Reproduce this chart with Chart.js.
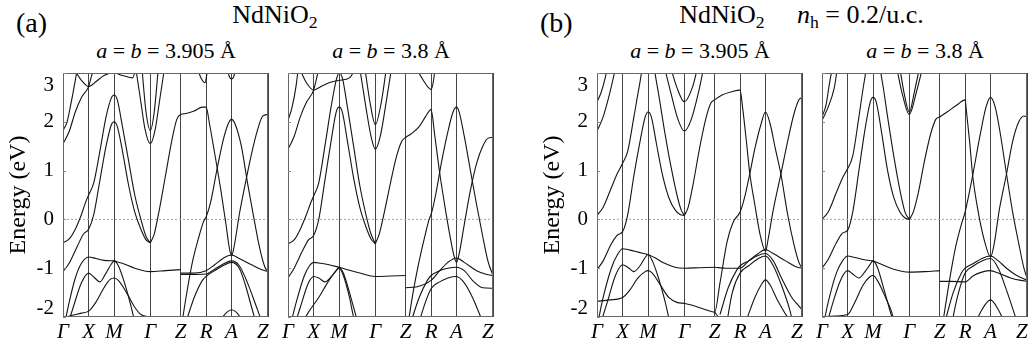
<!DOCTYPE html>
<html><head><meta charset="utf-8">
<script src="https://cdn.jsdelivr.net/npm/chart.js@4.4.0/dist/chart.umd.min.js"></script>
<style>
html,body{margin:0;padding:0;background:#fff;}
#wrap{position:relative;width:1036px;height:351px;overflow:hidden;font-family:'Liberation Serif','Times New Roman',serif;color:#000;background:#fff;}
canvas{position:absolute;}
.t{position:absolute;white-space:nowrap;line-height:1;}
.c{transform:translateX(-50%);}
sub{font-size:0.68em;vertical-align:-0.3em;line-height:0;}
</style></head><body><div id="wrap">
<div class="t" style="left:16px;top:9px;font-size:28px">(a)</div>
<div class="t c" style="left:275px;top:2px;font-size:26px">NdNiO<sub>2</sub></div>
<div class="t c" style="left:166px;top:40px;font-size:22px"><i>a</i> = <i>b</i> = 3.905 Å</div>
<div class="t c" style="left:391px;top:40px;font-size:22px"><i>a</i> = <i>b</i> = 3.8 Å</div>
<div class="t" style="left:540px;top:9px;font-size:28px">(b)</div>
<div class="t c" style="left:722px;top:2px;font-size:26px">NdNiO<sub>2</sub></div>
<div class="t" style="left:797px;top:2px;font-size:26px"><i>n</i><sub>h</sub> = 0.2/u.c.</div>
<div class="t c" style="left:700px;top:40px;font-size:22px"><i>a</i> = <i>b</i> = 3.905 Å</div>
<div class="t c" style="left:925px;top:40px;font-size:22px"><i>a</i> = <i>b</i> = 3.8 Å</div>
<canvas id="c1"></canvas><canvas id="c2"></canvas><canvas id="c3"></canvas><canvas id="c4"></canvas>
</div>
<script>
// ---- data ----
const kLabels = ['Γ','X','M','Γ','Z','R','A','Z\u2002'];
const kTicks = [0, 0.125, 0.249, 0.426, 0.574, 0.698, 0.822, 1.0];
const yTicks = [-2, -1, 0, 1, 2, 3];
const zeroLine = [[0, 0], [1, 0]];

// NdNiO2, a = b = 3.905 Å
const bandsA1 = [
 [[0,-0.48],[0.03,-0.4],[0.06,-0.2],[0.09,0.1],[0.11,0.35],[0.125,0.5],[0.15,0.75],[0.18,1.4],[0.21,2.1],[0.235,2.48],[0.249,2.55],[0.265,2.45],[0.29,1.9],[0.32,1.2],[0.35,0.5],[0.38,0.0],[0.405,-0.35],[0.426,-0.48]],
 [[0,-1.07],[0.03,-0.9],[0.07,-0.55],[0.1,-0.3],[0.125,-0.2],[0.15,0.1],[0.18,0.8],[0.21,1.5],[0.235,1.93],[0.249,2.0],[0.265,1.9],[0.29,1.4],[0.32,0.7],[0.35,0.15],[0.38,-0.2],[0.405,-0.42],[0.426,-0.48]],
 [[0.426,-0.48],[0.445,-0.3],[0.47,0.2],[0.5,0.9],[0.53,1.6],[0.555,2.05],[0.574,2.15],[0.6,2.17],[0.64,2.22],[0.68,2.3],[0.698,2.3],[0.715,1.95],[0.74,1.35],[0.77,0.6],[0.795,-0.1],[0.81,-0.55],[0.822,-0.75],[0.835,-0.55],[0.86,0.1],[0.89,0.75],[0.92,1.35],[0.95,1.85],[0.975,2.12],[1.0,2.15]],
 [[0.574,-2.3],[0.6,-1.6],[0.63,-0.9],[0.66,-0.4],[0.685,-0.05],[0.698,0.05],[0.72,0.35],[0.75,1.0],[0.78,1.6],[0.805,1.95],[0.822,2.05],[0.84,1.95],[0.87,1.5],[0.9,0.75],[0.93,0.05],[0.96,-0.6],[0.985,-0.98],[1.0,-1.07]],
 [[0.249,-0.85],[0.29,-0.9],[0.35,-1.0],[0.426,-1.07],[0.5,-1.05],[0.574,-1.03]],
 [[0.574,-1.1],[0.64,-1.1],[0.698,-1.05],[0.74,-0.93],[0.78,-0.8],[0.822,-0.73],[0.86,-0.8],[0.92,-0.93],[0.97,-1.03],[1.0,-1.07]],
 [[0.574,-1.13],[0.62,-1.13],[0.698,-1.12],[0.74,-1.02],[0.78,-0.92],[0.822,-0.85],[0.86,-0.95],[0.9,-1.3],[0.94,-1.75],[0.97,-2.1]],
 [[0.6,-2.1],[0.64,-1.6],[0.68,-1.25],[0.698,-1.17],[0.74,-1.05],[0.78,-0.95],[0.822,-0.88],[0.86,-1.0],[0.89,-1.35],[0.92,-1.8],[0.94,-2.1]],
 [[0.76,-2.1],[0.8,-1.9],[0.822,-1.85],[0.845,-1.9],[0.88,-2.1]],
 [[0,-2.02],[0.04,-1.97],[0.09,-1.92],[0.125,-1.88],[0.16,-1.7],[0.2,-1.4],[0.23,-1.23],[0.249,-1.2],[0.27,-1.25],[0.31,-1.5],[0.35,-1.8],[0.38,-1.95],[0.426,-2.0],[0.48,-2.05],[0.53,-2.12],[0.574,-2.25]],
 [[0.005,-2.2],[0.03,-1.7],[0.06,-1.2],[0.09,-0.9],[0.125,-0.77],[0.16,-0.8],[0.2,-0.84],[0.249,-0.85]],
 [[0.02,-2.2],[0.05,-1.8],[0.09,-1.3],[0.125,-1.1],[0.15,-1.18],[0.18,-1.28],[0.21,-1.1],[0.235,-0.92],[0.249,-0.85],[0.27,-0.95],[0.3,-1.3],[0.33,-1.75],[0.35,-2.1]],
 [[0,1.82],[0.02,2.0],[0.04,2.4],[0.06,2.85],[0.07,3.1]],
 [[0,1.55],[0.03,1.8],[0.06,2.2],[0.09,2.5],[0.125,2.72],[0.14,2.95],[0.155,3.1]],
 [[0.05,3.1],[0.09,2.85],[0.125,2.72],[0.16,2.82],[0.2,2.95],[0.249,3.0],[0.29,2.95],[0.34,2.9],[0.355,3.1]],
 [[0.355,3.1],[0.38,2.4],[0.4,1.85],[0.426,1.55],[0.45,1.85],[0.47,2.4],[0.495,3.1]],
 [[0.385,3.1],[0.405,2.2],[0.426,1.82],[0.445,2.2],[0.465,3.1]],
 [[0.655,3.1],[0.675,2.88],[0.693,2.8],[0.705,3.05],[0.71,3.1]],
 [[0.8,3.1],[0.812,2.92],[0.822,2.88],[0.832,2.92],[0.844,3.1]]
];

// NdNiO2, a = b = 3.8 Å
const bandsA2 = [
 [[0,-0.5],[0.03,-0.42],[0.06,-0.2],[0.09,0.1],[0.11,0.33],[0.125,0.48],[0.15,0.75],[0.18,1.5],[0.21,2.3],[0.235,2.85],[0.249,3.0],[0.265,2.9],[0.29,2.3],[0.32,1.5],[0.35,0.7],[0.38,0.1],[0.405,-0.3],[0.426,-0.5]],
 [[0,-1.2],[0.03,-1.0],[0.07,-0.65],[0.1,-0.42],[0.125,-0.33],[0.15,0.0],[0.18,0.8],[0.21,1.6],[0.235,2.2],[0.249,2.3],[0.265,2.2],[0.29,1.6],[0.32,0.85],[0.35,0.25],[0.38,-0.15],[0.405,-0.4],[0.426,-0.5]],
 [[0.426,-0.5],[0.445,-0.3],[0.47,0.15],[0.5,0.75],[0.53,1.3],[0.555,1.6],[0.574,1.68],[0.6,1.75],[0.64,1.9],[0.67,2.1],[0.698,2.25],[0.715,1.75],[0.74,0.95],[0.77,0.15],[0.795,-0.45],[0.81,-0.75],[0.822,-0.88],[0.835,-0.7],[0.86,-0.1],[0.89,0.6],[0.92,1.15],[0.95,1.5],[0.975,1.66],[1.0,1.68]],
 [[0.625,3.1],[0.66,2.85],[0.685,2.7],[0.698,2.66],[0.708,2.8],[0.718,3.1]],
 [[0.58,-2.3],[0.61,-1.5],[0.64,-0.85],[0.67,-0.3],[0.69,0.02],[0.698,0.1],[0.72,0.5],[0.75,1.2],[0.78,1.8],[0.805,2.2],[0.822,2.3],[0.835,2.2],[0.86,1.7],[0.89,1.0],[0.92,0.3],[0.95,-0.35],[0.975,-0.85],[1.0,-1.15]],
 [[0.249,-0.98],[0.29,-1.03],[0.35,-1.1],[0.426,-1.17],[0.5,-1.16],[0.574,-1.15]],
 [[0.574,-1.4],[0.63,-1.38],[0.698,-1.25],[0.74,-1.05],[0.78,-0.88],[0.822,-0.79],[0.86,-0.88],[0.92,-1.05],[0.97,-1.13],[1.0,-1.15]],
 [[0.6,-2.1],[0.64,-1.6],[0.68,-1.25],[0.698,-1.15],[0.74,-1.05],[0.78,-1.0],[0.822,-0.98],[0.86,-1.05],[0.9,-1.25],[0.95,-1.4],[1.0,-1.41]],
 [[0.64,-2.1],[0.67,-1.7],[0.698,-1.42],[0.74,-1.28],[0.78,-1.2],[0.822,-1.17],[0.86,-1.3],[0.9,-1.6],[0.94,-2.0],[0.96,-2.2]],
 [[0.01,-2.2],[0.04,-1.7],[0.08,-1.15],[0.105,-0.95],[0.125,-0.88],[0.16,-0.9],[0.2,-0.93],[0.249,-0.98]],
 [[0.03,-2.2],[0.06,-1.8],[0.1,-1.3],[0.125,-1.17],[0.15,-1.2],[0.18,-1.28],[0.21,-1.18],[0.235,-1.05],[0.249,-0.98],[0.27,-1.1],[0.3,-1.5],[0.33,-1.95],[0.35,-2.2]],
 [[0.06,-2.2],[0.1,-1.9],[0.15,-1.6],[0.2,-1.25],[0.235,-1.05],[0.249,-1.0],[0.27,-1.15],[0.3,-1.6],[0.32,-2.0],[0.34,-2.2]],
 [[0,2.03],[0.02,2.3],[0.04,2.75],[0.05,3.1]],
 [[0,1.44],[0.03,1.7],[0.06,2.1],[0.09,2.4],[0.125,2.65],[0.14,2.9],[0.15,3.1]],
 [[0.055,3.1],[0.09,2.8],[0.125,2.65],[0.16,2.72],[0.2,2.8],[0.249,2.85],[0.3,2.9],[0.33,3.1]],
 [[0.35,3.1],[0.38,2.3],[0.405,1.7],[0.426,1.44],[0.45,1.7],[0.475,2.3],[0.505,3.1]],
 [[0.375,3.1],[0.4,2.4],[0.426,1.94],[0.455,2.4],[0.48,3.1]]
];

// NdNiO2, n_h = 0.2/u.c., a = b = 3.905 Å
const bandsB1 = [
 [[0,0.08],[0.03,0.25],[0.07,0.65],[0.1,0.95],[0.125,1.15],[0.15,1.4],[0.18,2.1],[0.205,2.7],[0.249,3.6],[0.295,2.7],[0.33,1.8],[0.36,1.1],[0.39,0.5],[0.41,0.2],[0.426,0.08]],
 [[0,-1.03],[0.03,-0.85],[0.07,-0.5],[0.1,-0.32],[0.125,-0.25],[0.15,0.1],[0.18,0.9],[0.21,1.6],[0.235,2.1],[0.249,2.2],[0.265,2.1],[0.29,1.55],[0.32,0.9],[0.35,0.45],[0.38,0.2],[0.405,0.1],[0.426,0.08]],
 [[0.426,0.08],[0.445,0.25],[0.47,0.75],[0.5,1.45],[0.53,2.05],[0.555,2.38],[0.574,2.45],[0.61,2.55],[0.66,2.62],[0.698,2.65],[0.71,2.3],[0.73,1.55],[0.745,0.95],[0.77,0.3],[0.795,-0.3],[0.822,-0.65],[0.835,-0.4],[0.86,0.2],[0.897,0.93],[0.93,1.6],[0.96,2.15],[0.985,2.45],[1.0,2.5]],
 [[0.426,-1.72],[0.48,-1.78],[0.53,-1.85],[0.574,-1.9],[0.6,-1.3],[0.635,-0.45],[0.665,-0.05],[0.698,0.15],[0.72,0.45],[0.745,0.93],[0.77,1.45],[0.8,1.95],[0.822,2.2],[0.845,1.95],[0.87,1.45],[0.897,0.93],[0.93,0.1],[0.96,-0.5],[0.985,-0.88],[1.0,-1.0]],
 [[0.574,-1.9],[0.6,-2.05],[0.62,-2.2]],
 [[0.249,-0.72],[0.28,-0.78],[0.33,-0.9],[0.38,-0.98],[0.426,-1.0],[0.5,-0.99],[0.574,-0.98]],
 [[0.574,-0.98],[0.63,-1.0],[0.698,-1.0],[0.74,-0.85],[0.78,-0.72],[0.822,-0.62],[0.86,-0.7],[0.92,-0.85],[0.97,-0.97],[1.0,-1.0]],
 [[0.6,-1.95],[0.64,-1.4],[0.68,-1.05],[0.698,-0.95],[0.74,-0.85],[0.78,-0.75],[0.822,-0.7],[0.86,-0.85],[0.9,-1.2],[0.95,-1.6],[0.98,-1.75],[1.0,-1.85]],
 [[0.63,-2.2],[0.66,-1.5],[0.698,-1.1],[0.74,-0.95],[0.78,-0.82],[0.822,-0.75],[0.86,-0.95],[0.9,-1.35],[0.94,-1.85],[0.96,-2.2]],
 [[0.73,-2.05],[0.77,-1.6],[0.8,-1.35],[0.822,-1.24],[0.845,-1.35],[0.88,-1.65],[0.93,-2.0],[0.96,-2.1]],
 [[0,-1.68],[0.06,-1.65],[0.125,-1.6],[0.16,-1.45],[0.2,-1.2],[0.235,-1.07],[0.249,-1.05],[0.27,-1.1],[0.31,-1.35],[0.35,-1.6],[0.39,-1.7],[0.426,-1.72]],
 [[0.005,-2.1],[0.03,-1.6],[0.07,-1.0],[0.1,-0.72],[0.125,-0.6],[0.16,-0.63],[0.2,-0.67],[0.249,-0.72]],
 [[0.02,-2.1],[0.05,-1.7],[0.09,-1.15],[0.125,-0.93],[0.15,-0.98],[0.18,-1.07],[0.21,-0.95],[0.235,-0.78],[0.249,-0.72],[0.27,-0.85],[0.3,-1.2],[0.33,-1.65],[0.36,-2.2]],
 [[0,2.41],[0.02,2.6],[0.04,2.9],[0.05,3.1]],
 [[0,1.81],[0.03,2.1],[0.06,2.55],[0.085,3.0],[0.09,3.1]],
 [[0.36,3.1],[0.39,2.7],[0.426,2.41],[0.465,2.7],[0.49,3.1]],
 [[0.33,3.1],[0.36,2.6],[0.395,2.05],[0.426,1.81],[0.46,2.05],[0.495,2.6],[0.52,3.1]]
];

// NdNiO2, n_h = 0.2/u.c., a = b = 3.8 Å
const bandsB2 = [
 [[0,0.0],[0.03,0.15],[0.07,0.55],[0.1,0.85],[0.12,1.0],[0.15,1.3],[0.18,2.1],[0.205,2.8],[0.249,3.7],[0.295,2.8],[0.32,2.1],[0.35,1.3],[0.38,0.6],[0.405,0.15],[0.426,0.0]],
 [[0,-1.0],[0.03,-0.82],[0.07,-0.48],[0.1,-0.28],[0.125,-0.22],[0.15,0.15],[0.18,1.0],[0.21,1.85],[0.235,2.4],[0.249,2.5],[0.265,2.4],[0.29,1.8],[0.32,1.0],[0.35,0.45],[0.38,0.15],[0.405,0.03],[0.426,0.0]],
 [[0.426,0.0],[0.445,0.15],[0.47,0.55],[0.5,1.2],[0.53,1.75],[0.555,2.05],[0.574,2.1],[0.61,2.2],[0.66,2.35],[0.698,2.45],[0.705,2.2],[0.72,1.6],[0.735,0.9],[0.76,0.2],[0.79,-0.4],[0.822,-0.77],[0.84,-0.5],[0.865,0.2],[0.9,0.93],[0.93,1.6],[0.96,2.0],[0.985,2.12],[1.0,2.1]],
 [[0.59,-2.1],[0.62,-1.3],[0.65,-0.6],[0.68,-0.1],[0.698,0.15],[0.735,0.9],[0.77,1.7],[0.8,2.3],[0.822,2.5],[0.845,2.3],[0.87,1.75],[0.9,0.93],[0.93,0.15],[0.96,-0.5],[0.985,-1.0],[1.0,-1.2]],
 [[0.249,-0.85],[0.29,-0.92],[0.35,-1.02],[0.426,-1.08],[0.5,-1.07],[0.574,-1.05]],
 [[0.574,-1.27],[0.63,-1.27],[0.698,-1.28],[0.74,-1.15],[0.78,-1.08],[0.822,-1.05],[0.86,-1.1],[0.92,-1.2],[0.97,-1.25],[1.0,-1.27]],
 [[0.6,-2.1],[0.64,-1.5],[0.68,-1.1],[0.698,-1.0],[0.74,-0.9],[0.78,-0.8],[0.822,-0.75],[0.86,-0.85],[0.9,-1.0],[0.95,-1.15],[1.0,-1.25]],
 [[0.63,-2.2],[0.66,-1.6],[0.698,-1.1],[0.74,-0.95],[0.78,-0.85],[0.822,-0.8],[0.86,-1.0],[0.9,-1.45],[0.94,-1.95],[0.96,-2.2]],
 [[0.74,-2.2],[0.78,-1.85],[0.822,-1.65],[0.86,-1.85],[0.9,-2.2]],
 [[0,-2.0],[0.06,-1.98],[0.125,-1.95],[0.16,-1.7],[0.2,-1.35],[0.235,-1.17],[0.249,-1.15],[0.27,-1.25],[0.31,-1.6],[0.34,-1.9],[0.36,-2.2]],
 [[0.005,-2.2],[0.03,-1.7],[0.07,-1.1],[0.1,-0.85],[0.125,-0.75],[0.16,-0.78],[0.2,-0.82],[0.249,-0.85]],
 [[0.02,-2.2],[0.05,-1.75],[0.09,-1.25],[0.125,-1.05],[0.15,-1.12],[0.18,-1.2],[0.21,-1.07],[0.235,-0.92],[0.249,-0.85],[0.27,-0.98],[0.3,-1.4],[0.33,-1.85],[0.355,-2.2]],
 [[0,2.1],[0.02,2.35],[0.035,2.75],[0.05,3.1]],
 [[0,2.03],[0.03,2.3],[0.06,2.7],[0.075,3.1]],
 [[0.365,3.1],[0.39,2.6],[0.426,2.15],[0.46,2.6],[0.49,3.1]],
 [[0.38,3.1],[0.4,2.6],[0.426,2.2],[0.45,2.6],[0.475,3.1]]
];

// ---- layout ----
const FONT = "'Liberation Serif','Times New Roman',serif";
const PAD_L = 60, PAD_T = 6, PAD_R = 12, PAD_B = 34;
const panels = [
  {id:'c1', left:63,  top:73, w:205, h:244, bands:bandsA1, yLabels:true},
  {id:'c2', left:288, top:73, w:205, h:244, bands:bandsA2, yLabels:false},
  {id:'c3', left:597, top:73, w:205, h:244, bands:bandsB1, yLabels:true},
  {id:'c4', left:822, top:73, w:205, h:244, bands:bandsB2, yLabels:false}
];

const framePlugin = {
  id: 'frame',
  afterDatasetsDraw(chart) {
    const {ctx, chartArea: a, scales} = chart;
    ctx.save();
    ctx.strokeStyle = '#666';
    ctx.lineWidth = 1;
    ctx.strokeRect(a.left + 0.5, a.top + 0.5, a.right - a.left - 1, a.bottom - a.top - 1);
    ctx.strokeStyle = '#888';
    yTicks.forEach(v => {
      const py = Math.round(scales.y.getPixelForValue(v)) + 0.5;
      ctx.beginPath(); ctx.moveTo(a.left, py); ctx.lineTo(a.left + 3, py); ctx.stroke();
    });
    ctx.restore();
  }
};

panels.forEach(p => {
  const cv = document.getElementById(p.id);
  cv.width = PAD_L + p.w + PAD_R;
  cv.height = PAD_T + p.h + PAD_B;
  cv.style.left = (p.left - PAD_L) + 'px';
  cv.style.top = (p.top - PAD_T) + 'px';
  const datasets = [{
    data: zeroLine, borderColor: '#a8a8a8', borderWidth: 1, borderDash: [2, 2],
    pointRadius: 0, tension: 0, order: 10
  }].concat(p.bands.map(b => ({
    data: b, borderColor: '#141414', borderWidth: 1.1, pointRadius: 0,
    cubicInterpolationMode: 'monotone', fill: false, order: 1
  })));
  new Chart(cv, {
    type: 'line',
    data: {datasets},
    options: {
      responsive: false, animation: false, devicePixelRatio: 1, events: [],
      layout: {padding: {left: 0, top: PAD_T, right: PAD_R, bottom: 0}},
      plugins: {legend: {display: false}, tooltip: {enabled: false}, title: {display: false}},
      datasets: {line: {clip: 0}},
      scales: {
        x: {
          type: 'linear', min: 0, max: 1,
          afterBuildTicks: s => { s.ticks = kTicks.map(v => ({value: v})); },
          afterFit: s => { s.height = PAD_B; s.paddingLeft = 0; s.paddingRight = 0; },
          ticks: {
            autoSkip: false, maxRotation: 0, padding: 3, color: '#000',
            font: {family: FONT, size: 21, style: 'italic'},
            callback: (v, i) => kLabels[i]
          },
          grid: {color: '#444', lineWidth: 1, drawTicks: false},
          border: {display: false}
        },
        y: {
          type: 'linear', min: -2, max: 3,
          afterBuildTicks: s => { s.ticks = yTicks.map(v => ({value: v})); },
          afterFit: s => { s.width = PAD_L; s.paddingTop = 0; s.paddingBottom = 0; },
          ticks: {
            display: p.yLabels, autoSkip: false, padding: 9, color: '#000',
            font: c => ({family: FONT, size: 21, lineHeight: (c.tick && c.tick.value === -2) ? 0.85 : 1.2}),
            callback: v => v === 3 ? ['', '3'] : (v === -2 ? ['-2', ''] : String(v))
          },
          grid: {display: false, drawTicks: false},
          border: {display: false},
          title: {
            display: p.yLabels, text: 'Energy (eV)', color: '#000',
            font: {family: FONT, size: 24}, padding: {top: 1, bottom: 0}
          }
        }
      }
    },
    plugins: [framePlugin]
  });
});
</script>
</body></html>
